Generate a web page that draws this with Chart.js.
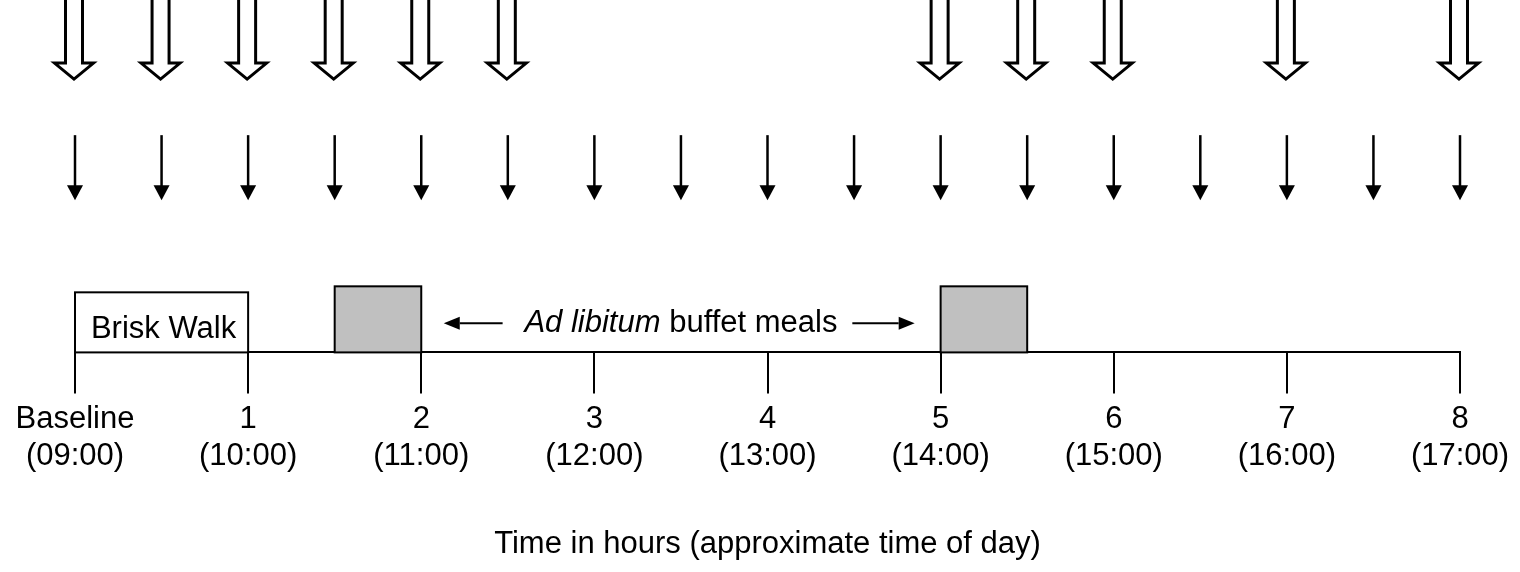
<!DOCTYPE html>
<html>
<head>
<meta charset="utf-8">
<script src="https://cdn.jsdelivr.net/npm/chart.js@4/dist/chart.umd.min.js"></script>
<style>
  html, body { margin: 0; padding: 0; background: #fff; }
  #wrap { width: 1520px; height: 572px; }
</style>
</head>
<body>
<div id="wrap"><canvas id="protocolChart"></canvas></div>
<script>
'use strict';

// time axis, hours from baseline
const hourTicks = [0, 1, 2, 3, 4, 5, 6, 7, 8];
const hourLabels = ['Baseline', '1', '2', '3', '4', '5', '6', '7', '8'];
const clockLabels = ['(09:00)', '(10:00)', '(11:00)', '(12:00)', '(13:00)', '(14:00)', '(15:00)', '(16:00)', '(17:00)'];
const axisTitle = 'Time in hours (approximate time of day)';

// big hollow arrows (top row) and small arrows (second row)
const questionnaireTimes = [0, 0.5, 1, 1.5, 2, 2.5, 5, 5.5, 6, 7, 8];
const sampleTimes = [0, 0.5, 1, 1.5, 2, 2.5, 3, 3.5, 4, 4.5, 5, 5.5, 6, 6.5, 7, 7.5, 8];

// exercise and meals
const walkPeriod = [0, 1];
const walkLabel = 'Brisk Walk';
const mealPeriods = [[1.5, 2], [5, 5.5]];
const mealNoteItalic = 'Ad libitum';
const mealNoteRest = ' buffet meals';
const mealNoteCenter = 3.5;
const mealNoteArrows = [[2.47, 2.13], [4.49, 4.85]];

const FONT_FAMILY = 'Arial, "Liberation Sans", sans-serif';
const FONT_SIZE = 31;
// y units = pixels above the time line
const LEVEL = {
    top: 352, bigTop: 362, bigHead: 289, bigTip: 273,
    smallTop: 217, smallHead: 167, smallTip: 152,
    walkTop: 60, mealTop: 66, walkText: 23, note: 29
};

const protocolMarks = {
    id: 'protocolMarks',
    afterDraw(chart) {
        const ctx = chart.ctx;
        const x = chart.scales.x;
        const y = chart.scales.y;
        const px = v => x.getPixelForValue(v);
        const py = v => y.getPixelForValue(v);

        ctx.save();
        ctx.strokeStyle = '#000';
        ctx.lineJoin = 'miter';

        // walk box
        ctx.lineWidth = 2;
        ctx.fillStyle = '#fff';
        ctx.fillRect(px(walkPeriod[0]), py(LEVEL.walkTop), px(walkPeriod[1]) - px(walkPeriod[0]), py(0) - py(LEVEL.walkTop));
        ctx.strokeRect(px(walkPeriod[0]), py(LEVEL.walkTop), px(walkPeriod[1]) - px(walkPeriod[0]), py(0) - py(LEVEL.walkTop));
        ctx.fillStyle = '#000';
        ctx.font = FONT_SIZE + 'px ' + FONT_FAMILY;
        ctx.textAlign = 'center';
        ctx.textBaseline = 'middle';
        ctx.fillText(walkLabel, (px(walkPeriod[0]) + px(walkPeriod[1])) / 2 + 2, py(LEVEL.walkText));

        // meal boxes
        mealPeriods.forEach(p => {
            const l = px(p[0]), r = px(p[1]), t = py(LEVEL.mealTop), b = py(0);
            ctx.fillStyle = '#c0c0c0';
            ctx.fillRect(l, t, r - l, b - t);
            ctx.strokeRect(l, t, r - l, b - t);
        });

        // meal note
        ctx.textAlign = 'left';
        const italicFont = 'italic ' + FONT_SIZE + 'px ' + FONT_FAMILY;
        const plainFont = FONT_SIZE + 'px ' + FONT_FAMILY;
        ctx.font = italicFont;
        const w1 = ctx.measureText(mealNoteItalic).width;
        ctx.font = plainFont;
        const w2 = ctx.measureText(mealNoteRest).width;
        const startX = px(mealNoteCenter) - (w1 + w2) / 2;
        const noteY = py(LEVEL.note);
        ctx.fillStyle = '#000';
        ctx.font = italicFont;
        ctx.fillText(mealNoteItalic, startX, noteY);
        ctx.font = plainFont;
        ctx.fillText(mealNoteRest, startX + w1, noteY);

        mealNoteArrows.forEach(a => {
            const tail = px(a[0]), tip = px(a[1]);
            const dir = Math.sign(tip - tail);
            const base = tip - dir * 16;
            ctx.lineWidth = 2;
            ctx.beginPath();
            ctx.moveTo(tail, noteY);
            ctx.lineTo(base, noteY);
            ctx.stroke();
            ctx.beginPath();
            ctx.moveTo(tip, noteY);
            ctx.lineTo(base, noteY - 6.5);
            ctx.lineTo(base, noteY + 6.5);
            ctx.closePath();
            ctx.fill();
        });

        // small arrows
        sampleTimes.forEach(t => {
            const cx = px(t);
            ctx.lineWidth = 2.5;
            ctx.beginPath();
            ctx.moveTo(cx, py(LEVEL.smallTop));
            ctx.lineTo(cx, py(LEVEL.smallHead) + 1);
            ctx.stroke();
            ctx.beginPath();
            ctx.moveTo(cx - 8, py(LEVEL.smallHead));
            ctx.lineTo(cx + 8, py(LEVEL.smallHead));
            ctx.lineTo(cx, py(LEVEL.smallTip));
            ctx.closePath();
            ctx.fill();
        });

        // big hollow arrows
        questionnaireTimes.forEach(t => {
            const cx = px(t) - 1;
            const top = py(LEVEL.bigTop), head = py(LEVEL.bigHead), tip = py(LEVEL.bigTip);
            ctx.beginPath();
            ctx.moveTo(cx - 8.5, top);
            ctx.lineTo(cx - 8.5, head);
            ctx.lineTo(cx - 19.5, head);
            ctx.lineTo(cx, tip);
            ctx.lineTo(cx + 19.5, head);
            ctx.lineTo(cx + 8.5, head);
            ctx.lineTo(cx + 8.5, top);
            ctx.fillStyle = '#fff';
            ctx.fill();
            ctx.lineWidth = 3;
            ctx.stroke();
        });

        ctx.restore();
    }
};

new Chart(document.getElementById('protocolChart'), {
    type: 'scatter',
    data: { datasets: [] },
    options: {
        responsive: true,
        maintainAspectRatio: false,
        animation: false,
        layout: { padding: { left: 75, right: 60, top: 0, bottom: 0 } },
        plugins: {
            legend: { display: false },
            tooltip: { enabled: false }
        },
        scales: {
            x: {
                type: 'linear',
                min: 0,
                max: 8,
                afterBuildTicks: scale => {
                    scale.ticks = hourTicks.map(v => ({ value: v }));
                },
                ticks: {
                    autoSkip: false,
                    maxRotation: 0,
                    padding: 7,
                    color: '#000',
                    font: { family: FONT_FAMILY, size: FONT_SIZE },
                    callback: value => {
                        const i = hourTicks.indexOf(value);
                        return [hourLabels[i], clockLabels[i]];
                    }
                },
                grid: {
                    drawOnChartArea: false,
                    drawTicks: true,
                    tickLength: 41,
                    color: '#000',
                    lineWidth: 2
                },
                border: { display: true, color: '#000', width: 2 },
                title: {
                    display: true,
                    text: axisTitle,
                    color: '#000',
                    font: { family: FONT_FAMILY, size: FONT_SIZE },
                    padding: { top: 44, bottom: 9 }
                }
            },
            y: { display: false, min: 0, max: LEVEL.top }
        }
    },
    plugins: [protocolMarks]
});
</script>
</body>
</html>
